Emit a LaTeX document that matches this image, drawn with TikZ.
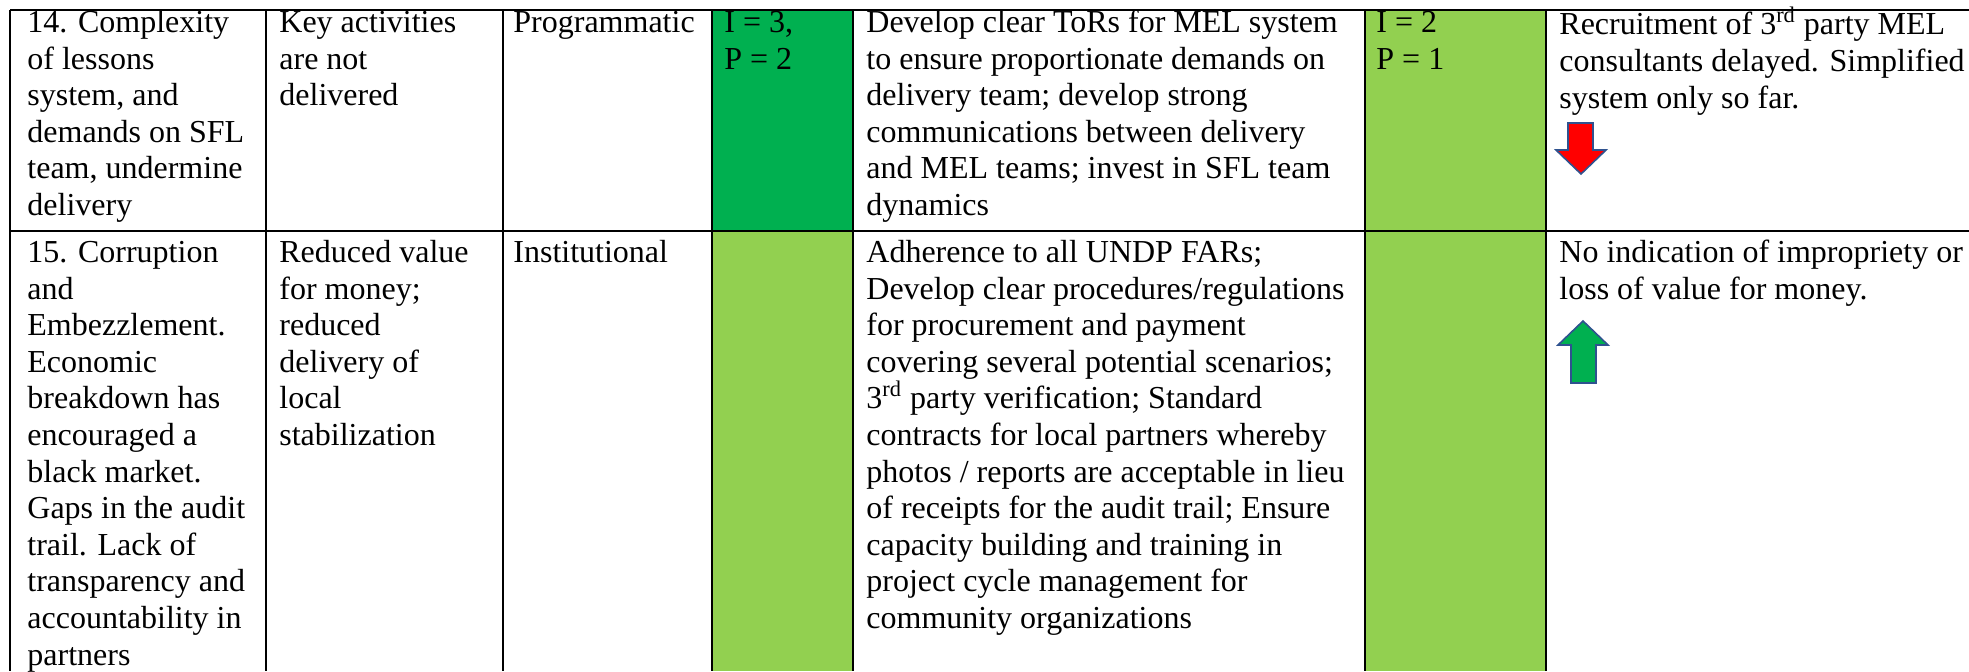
\documentclass[tikz,border=0pt]{standalone}
\usepackage{fontspec}
\setmainfont{Liberation Serif}
\definecolor{dkgreen}{HTML}{00B050}
\definecolor{ltgreen}{HTML}{92D050}
\definecolor{arrowred}{HTML}{FF0000}
\definecolor{arrowline}{HTML}{2F528F}
\tikzset{
  celltext/.style={anchor=north west, inner sep=0pt, align=left, font=\fontsize{16pt}{18.3pt}\selectfont},
  rule/.style={line width=1pt, black},
  trendarrow/.style={draw=arrowline, line width=0.8pt, line join=miter}
}
\begin{document}
\begin{tikzpicture}[x=0.5pt, y=-0.5pt]
\useasboundingbox (0,0) rectangle (1969,671);
\clip (0,0) rectangle (1969,671);
% cell fills
\fill[dkgreen] (712,10) rectangle (853,231);
\fill[ltgreen] (1365,10) rectangle (1546,231);
\fill[ltgreen] (712,231) rectangle (853,671);
\fill[ltgreen] (1365,231) rectangle (1546,671);
% grid
\draw[rule] (10,10) -- (1969,10);
\draw[rule] (10,231) -- (1969,231);
\foreach \cx in {10,266,503,712,853,1365,1546}
  \draw[rule] (\cx,10) -- (\cx,671);
% row 14
\node[celltext] (r1c1) at (27,6.4) {\strut 14. Complexity\\of lessons\\system, and\\demands on SFL\\team, undermine\\delivery};
\node[celltext] (r1c2) at (279,6.4) {\strut Key activities\\are not\\delivered};
\node[celltext] (r1c3) at (513,6.4) {\strut Programmatic};
\node[celltext] (r1c4) at (724,6.4) {\strut I = 3,\\P = 2};
\node[celltext] (r1c5) at (866,6.4) {\strut Develop clear ToRs for MEL system\\to ensure proportionate demands on\\delivery team; develop strong\\communications between delivery\\and MEL teams; invest in SFL team\\dynamics};
\node[celltext] (r1c6) at (1376,6.4) {\strut I = 2\\P = 1};
\node[celltext] (r1c7) at (1559,6.4) {\strut Recruitment of 3\textsuperscript{rd} party MEL\\consultants delayed. Simplified\\system only so far.};
% row 15
\node[celltext] (r2c1) at (27,236.4) {\strut 15. Corruption\\and\\Embezzlement.\\Economic\\breakdown has\\encouraged a\\black market.\\Gaps in the audit\\trail. Lack of\\transparency and\\accountability in\\partners};
\node[celltext] (r2c2) at (279,236.4) {\strut Reduced value\\for money;\\reduced\\delivery of\\local\\stabilization};
\node[celltext] (r2c3) at (513,236.4) {\strut Institutional};
\node[celltext] (r2c5) at (866,236.4) {\strut Adherence to all UNDP FARs;\\Develop clear procedures/regulations\\for procurement and payment\\covering several potential scenarios;\\3\textsuperscript{rd} party verification; Standard\\contracts for local partners whereby\\photos / reports are acceptable in lieu\\of receipts for the audit trail; Ensure\\capacity building and training in\\project cycle management for\\community organizations};
\node[celltext] (r2c7) at (1559,236.4) {\strut No indication of impropriety or\\loss of value for money.};
% trend arrows
\filldraw[trendarrow, fill=arrowred] (1568,123) -- (1593,123) -- (1593,150) -- (1606,150) -- (1581,174) -- (1556,150) -- (1568,150) -- cycle;
\filldraw[trendarrow, fill=dkgreen] (1583,321) -- (1608,345) -- (1596,345) -- (1596,383) -- (1571,383) -- (1571,345) -- (1558,345) -- cycle;
\end{tikzpicture}
\end{document}
